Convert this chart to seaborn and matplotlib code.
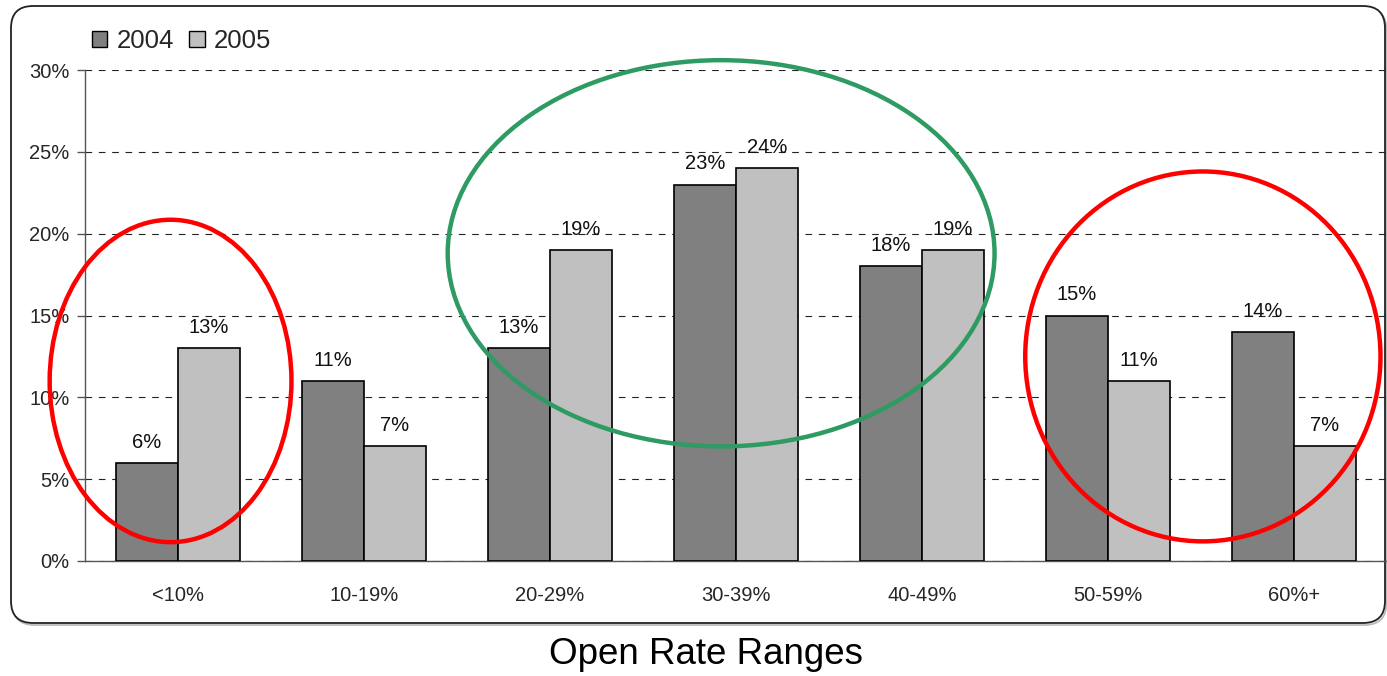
import matplotlib
matplotlib.use("Agg")
import matplotlib.pyplot as plt
import seaborn as sns
import pandas as pd
from matplotlib.patches import Ellipse, FancyBboxPatch, Patch
from matplotlib.ticker import FixedLocator, FuncFormatter

# Share of campaigns per open-rate bucket
ranges = ["<10%", "10-19%", "20-29%", "30-39%", "40-49%", "50-59%", "60%+"]
pct_2004 = [6, 11, 13, 23, 18, 15, 14]
pct_2005 = [13, 7, 19, 24, 19, 11, 7]
years = ["2004", "2005"]
colors = ["#808080", "#C0C0C0"]

df = pd.DataFrame({
    "range": ranges * 2,
    "pct": pct_2004 + pct_2005,
    "year": [years[0]] * len(ranges) + [years[1]] * len(ranges),
})

sns.set_style("white")
plt.rcParams["font.family"] = ["Liberation Sans", "DejaVu Sans"]

W, H = 1387, 676
fig = plt.figure(figsize=(W / 100, H / 100), dpi=100)

# rounded chart frame (in inches) with a faint drop shadow
shadow = FancyBboxPatch((0.125, (H - 625) / 100), (1385 - 11) / 100, (623 - 6) / 100,
                        boxstyle="round,pad=0,rounding_size=0.22",
                        transform=fig.dpi_scale_trans, facecolor="none",
                        edgecolor="#BBBBBB", linewidth=1.3, zorder=-2)
frame = FancyBboxPatch((0.11, (H - 623) / 100), (1385 - 11) / 100, (623 - 6) / 100,
                       boxstyle="round,pad=0,rounding_size=0.22",
                       transform=fig.dpi_scale_trans, facecolor="white",
                       edgecolor="#222222", linewidth=1.3, zorder=-1)
fig.patches.extend([shadow, frame])

ax = fig.add_axes([85 / W, 1 - 561 / H, (W - 85) / W, (561 - 70) / H])
ax.set_facecolor("none")

sns.barplot(data=df, x="range", y="pct", hue="year", palette=colors,
            width=0.667, gap=0, edgecolor="black", linewidth=1.2,
            saturation=1, ax=ax, legend=False, zorder=3)

for cont in ax.containers:
    ax.bar_label(cont, labels=[f"{v:.0f}%" for v in cont.datavalues],
                 padding=8, fontsize=14.5, color="#111111")

ax.set_xlim(-0.5, 6.5)
ax.set_ylim(0, 30)
ax.set_yticks(range(0, 31, 5))
ax.yaxis.set_major_formatter(FuncFormatter(lambda v, _: f"{v:.0f}%"))
ax.grid(axis="y", color="#222222", linestyle=(0, (6, 6)), linewidth=0.8, zorder=0)
ax.set_axisbelow(True)

ax.xaxis.set_minor_locator(FixedLocator([i - 0.5 for i in range(len(ranges) + 1)]))
ax.tick_params(axis="x", which="major", length=0, pad=18, labelsize=14.5)
ax.tick_params(axis="x", which="minor", length=6, width=1, color="#555555", direction="out")
ax.tick_params(axis="y", length=6, width=1, color="#555555", direction="out",
               labelsize=14.5, pad=5, left=True)
ax.set_xlabel("")
ax.set_ylabel("")
for s in ["top", "right"]:
    ax.spines[s].set_visible(False)
for s in ["left", "bottom"]:
    ax.spines[s].set_color("#555555")
    ax.spines[s].set_linewidth(1.0)

# highlight groups
ax.add_patch(Ellipse((-0.04, 11.0), 1.30, 19.7, fill=False, edgecolor="#FF0000",
                     linewidth=3.2, zorder=5, clip_on=False))
ax.add_patch(Ellipse((2.92, 18.8), 2.94, 23.6, fill=False, edgecolor="#2E9B63",
                     linewidth=3.2, zorder=5, clip_on=False))
ax.add_patch(Ellipse((5.51, 12.5), 1.91, 22.6, fill=False, edgecolor="#FF0000",
                     linewidth=3.2, zorder=5, clip_on=False))

handles = [Patch(facecolor=c, edgecolor="black", linewidth=1) for c in colors]
fig.legend(handles, years, loc="center left", bbox_to_anchor=(92 / W, 1 - 41 / H),
           ncol=2, frameon=False, fontsize=18.5, handlelength=0.6, handleheight=0.6,
           handletextpad=0.35, columnspacing=0.6, borderaxespad=0, borderpad=0)

fig.text(706 / W, 1 - 655 / H, "Open Rate Ranges", ha="center", va="center",
         fontsize=26.5, color="black")

fig.savefig("out.png", dpi=100)
